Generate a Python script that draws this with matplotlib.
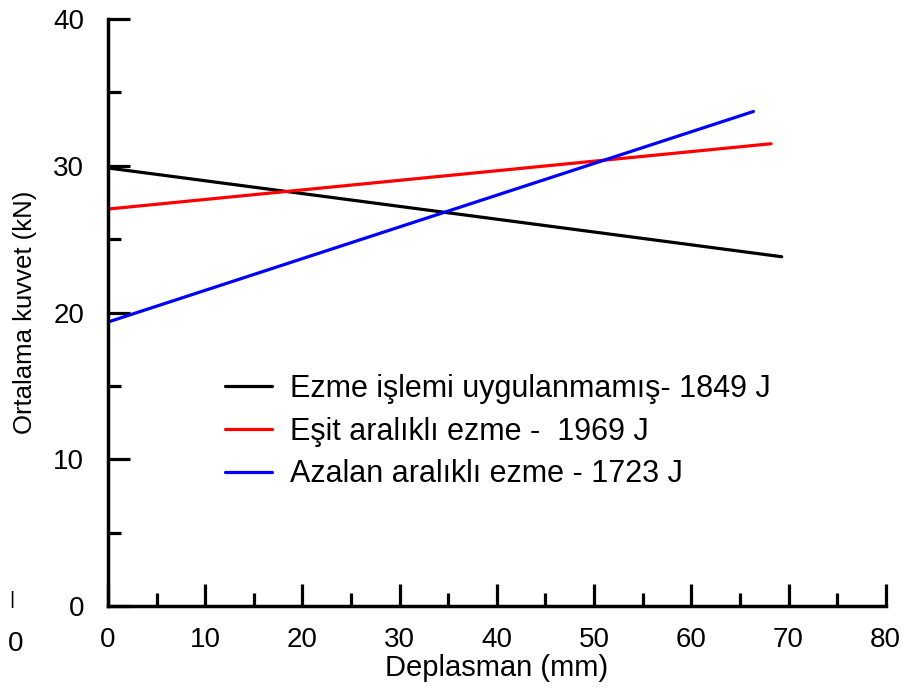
import numpy as np
import matplotlib.pyplot as plt
from matplotlib.ticker import MultipleLocator

plt.rcParams['font.family'] = ['Liberation Sans', 'DejaVu Sans']

# straight-line fits: (x start, x end), (y start, y end)
labels = ['Ezme işlemi uygulanmamış- 1849 J',
          'Eşit aralıklı ezme -  1969 J',
          'Azalan aralıklı ezme - 1723 J']
colors = ['black', 'red', 'blue']
x_ends = [[0, 69.3], [0, 68.2], [0, 66.4]]
y_ends = [[29.85, 23.8], [27.05, 31.5], [19.35, 33.7]]

fig = plt.figure(figsize=(9.15, 6.91), dpi=100)
ax = fig.add_axes([0.118, 0.123, 0.850, 0.8495])

for xs, ys, c, lab in zip(x_ends, y_ends, colors, labels):
    ax.plot(xs, ys, color=c, lw=2.3, label=lab, solid_capstyle='round')

ax.set_xlim(0, 80)
ax.set_ylim(0, 40)
ax.xaxis.set_major_locator(MultipleLocator(10))
ax.xaxis.set_minor_locator(MultipleLocator(5))
ax.yaxis.set_major_locator(MultipleLocator(10))
ax.yaxis.set_minor_locator(MultipleLocator(5))

for s in ['top', 'right']:
    ax.spines[s].set_visible(False)
for s in ['left', 'bottom']:
    ax.spines[s].set_linewidth(2.5)

ax.tick_params(which='major', direction='in', length=16, width=2.3,
               labelsize=20)
ax.tick_params(which='minor', direction='in', length=9.5, width=2.3)
ax.tick_params(axis='x', pad=15)
ax.tick_params(axis='y', pad=17)

ax.set_xlabel('Deplasman (mm)', fontsize=21, labelpad=1)
ax.set_ylabel('Ortalama kuvvet (kN)', fontsize=18.5, labelpad=12)

ax.legend(loc='upper left', bbox_to_anchor=(0.150, 0.395), frameon=False,
          fontsize=22, handlelength=1.54, handletextpad=0.59,
          labelspacing=0.41, borderpad=0, borderaxespad=0)

# stray marks from the original figure
fig.text(12 / 915, 1 - 600 / 691, '|', fontsize=14, ha='center', va='center')
fig.text(16 / 915, 1 - 644 / 691, '0', fontsize=20, ha='center', va='center')

fig.savefig('out.png', dpi=100)
